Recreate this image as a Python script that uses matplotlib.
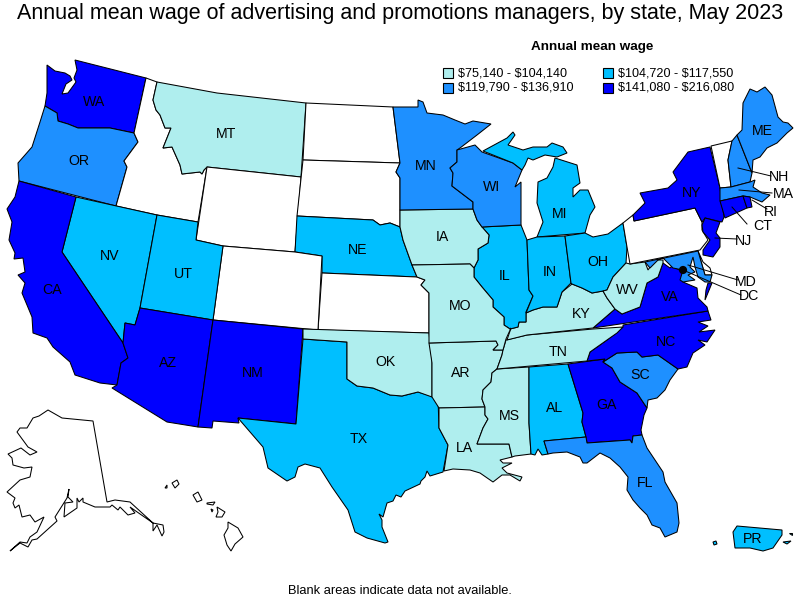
import matplotlib
matplotlib.use("Agg")
import matplotlib.pyplot as plt
import matplotlib.patches as patches

plt.rcParams['font.family'] = ['Liberation Sans', 'DejaVu Sans']
plt.rcParams['text.parse_math'] = False

title = "Annual mean wage of advertising and promotions managers, by state, May 2023"
legend_title = "Annual mean wage"
footer = "Blank areas indicate data not available."

# wage classes
class_labels = ["$75,140 - $104,140", "$104,720 - $117,550", "$119,790 - $136,910", "$141,080 - $216,080"]
class_colors = ["#AFEEEE", "#00BFFF", "#1E90FF", "#0000FF"]

class_0_states = ["MT", "IA", "MO", "AR", "OK", "LA", "MS", "TN", "KY", "WV"]
class_1_states = ["NV", "UT", "NE", "TX", "IL", "IN", "MI", "OH", "AL", "PR"]
class_2_states = ["OR", "MN", "WI", "ME", "NH", "MA", "MD", "SC", "FL"]
class_3_states = ["WA", "CA", "AZ", "NM", "NY", "CT", "RI", "NJ", "VA", "NC", "GA", "DC"]
blank_states = ["ID", "WY", "ND", "SD", "CO", "KS", "PA", "VT", "DE", "AK", "HI"]

state_class = {}
for i, group in enumerate([class_0_states, class_1_states, class_2_states, class_3_states]):
    for s in group:
        state_class[s] = i

# base map outlines, in image pixels
outlines = {
    "WA": [[(47,65),(55,71),(65,73),(70,76),(72,80),(66,84),(62,94),(68,93),(76,82),(74,78),(77,70),(75,60),(146,78),(134,133),(110,128),(93,128),(78,128),(68,124),(58,121),(57,113),(45,106),(47,93)]],
    "OR": [[(45,106),(57,113),(58,121),(68,124),(78,128),(93,128),(110,128),(134,133),(138,142),(124,161),(127,167),(116,206),(19,181),(18,163),(32,147),(40,122)]],
    "ID": [[(146,78),(157,82),(153,100),(156,110),(160,115),(165,128),(171,128),(163,148),(172,147),(180,165),(182,174),(200,172),(202,174),(204,170),(207,167),(198,222),(157,215),(116,206),(127,167),(124,161),(138,142),(134,133)]],
    "MT": [[(157,82),(217,93),(306,103),(301,177),(207,167),(204,170),(202,174),(200,172),(182,174),(180,165),(172,147),(163,148),(171,128),(165,128),(160,115),(156,110),(153,100)]],
    "WY": [[(207,167),(301,177),(295,252),(223,246),(196,240)]],
    "ND": [[(306,103),(393,107),(400,163),(303,160)]],
    "SD": [[(303,160),(400,163),(396,172),(400,178),(400,227),(390,223),(380,225),(373,220),(297,216)]],
    "NE": [[(297,216),(373,220),(380,225),(390,223),(400,227),(403,240),(412,265),(417,277),(322,273),(322,256),(295,252)]],
    "KS": [[(322,273),(417,277),(425,280),(421,285),(429,293),(429,333),(318,330)]],
    "CO": [[(223,246),(295,252),(322,256),(318,330),(213,320)]],
    "NV": [[(76,197),(157,215),(140,308),(135,325),(125,323),(123,343),(62,252)]],
    "UT": [[(157,215),(198,222),(196,240),(223,246),(213,320),(140,308)]],
    "CA": [[(19,181),(76,197),(62,252),(123,343),(128,358),(121,363),(117,385),(100,383),(75,375),(70,362),(53,347),(47,338),(33,333),(32,317),(22,293),(25,283),(18,275),(25,272),(23,258),(14,259),(15,253),(9,240),(12,222),(7,209),(15,197)]],
    "AZ": [[(140,308),(213,320),(198,427),(167,422),(112,388),(117,385),(121,363),(128,358),(123,343),(125,323),(135,325)]],
    "NM": [[(213,320),(303,329),(296,424),(238,418),(239,423),(213,421),(212,428),(198,427)]],
    "TX": [[(303,339),(347,342),(347,379),(357,386),(373,388),(390,395),(402,396),(418,392),(438,398),(439,428),(448,445),(443,472),(430,476),(427,471),(425,477),(421,481),(420,484),(405,491),(401,497),(396,495),(393,501),(387,503),(383,517),(379,514),(382,520),(382,527),(388,542),(385,543),(367,538),(355,532),(348,510),(332,487),(320,468),(305,464),(298,467),(295,477),(287,481),(268,468),(263,447),(238,418),(296,424)]],
    "OK": [[(303,329),(429,333),(432,360),(432,397),(418,392),(402,396),(390,395),(373,388),(357,386),(347,379),(347,342),(303,339)]],
    "AR": [[(429,343),(496,341),(498,345),(493,350),(503,350),(502,355),(497,369),(492,373),(491,382),(483,390),(482,399),(485,407),(439,408),(432,397),(432,363)]],
    "LA": [[(439,408),(485,407),(485,415),(488,419),(483,428),(477,444),(509,444),(512,457),(500,460),(503,463),(512,463),(502,468),(507,473),(522,477),(520,481),(510,475),(502,475),(493,482),(480,473),(470,470),(453,469),(444,471),(448,445),(439,428)]],
    "MS": [[(497,369),(529,367),(529,423),(531,454),(515,456),(512,457),(509,444),(477,444),(483,428),(488,419),(485,415),(485,407),(482,399),(483,390),(491,382),(492,373)]],
    "AL": [[(529,367),(568,364),(583,413),(582,422),(586,437),(544,441),(548,454),(542,455),(538,449),(535,455),(531,454),(529,423)]],
    "GA": [[(568,364),(605,359),(603,362),(612,368),(620,382),(637,393),(647,408),(644,415),(641,430),(642,435),(633,436),(632,443),(630,440),(587,443),(586,437),(582,422),(583,413)]],
    "FL": [[(544,441),(586,437),(587,443),(630,440),(632,443),(633,436),(642,435),(647,448),(663,472),(665,482),(677,503),(679,523),(677,532),(665,537),(660,528),(652,525),(647,515),(640,508),(633,500),(627,490),(628,477),(620,467),(610,458),(600,453),(587,463),(583,463),(580,457),(567,452),(553,453),(548,454)]],
    "SC": [[(603,362),(617,353),(637,352),(642,357),(658,355),(678,369),(670,380),(665,390),(657,398),(648,400),(647,408),(637,393),(620,382),(612,368)]],
    "NC": [[(623,325),(708,311),(711,320),(698,322),(708,326),(699,332),(715,330),(707,342),(698,340),(705,345),(693,353),(687,367),(678,369),(658,355),(642,357),(637,352),(617,353),(603,362),(605,359),(587,361),(590,352),(607,340),(623,327)]],
    "TN": [[(506,340),(527,335),(593,329),(623,327),(617,333),(607,340),(590,352),(587,361),(497,369),(502,355),(503,350)]],
    "VA": [[(593,328),(615,309),(622,314),(640,307),(647,283),(658,277),(663,263),(670,268),(672,266),(683,272),(683,282),(697,288),(698,298),(707,307),(708,311)],
           [(712,283),(705,300),(706,290),(708,283)]],
    "KY": [[(510,329),(518,327),(519,322),(526,322),(526,313),(533,310),(543,307),(557,307),(562,292),(572,284),(582,288),(592,293),(603,291),(607,298),(615,309),(593,328),(527,335),(507,340),(511,328)]],
    "IL": [[(482,227),(521,225),(527,240),(529,290),(533,296),(526,312),(526,322),(519,322),(518,327),(510,329),(504,325),(504,317),(493,307),(493,300),(482,287),(474,277),(474,268),(478,260),(478,249),(488,243),(489,235)]],
    "IA": [[(400,210),(473,209),(477,220),(482,227),(489,235),(488,243),(478,249),(478,260),(474,268),(470,264),(412,265),(403,240),(400,227)]],
    "MO": [[(412,265),(470,264),(474,268),(474,277),(482,287),(493,300),(493,307),(504,317),(504,325),(510,329),(511,328),(506,339),(503,350),(493,350),(498,345),(496,341),(429,343),(429,293),(421,285),(425,280),(417,277)]],
    "MN": [[(393,107),(418,107),(418,100),(423,102),(427,113),(443,115),(455,120),(465,124),(473,121),(491,124),(477,135),(460,148),(457,150),(457,162),(450,168),(453,173),(452,186),(473,202),(473,209),(400,210),(400,178),(396,172),(400,163)]],
    "WI": [[(457,150),(475,145),(482,152),(513,163),(522,170),(515,187),(521,182),(521,225),(482,227),(477,220),(473,209),(473,202),(452,186),(453,173),(450,168),(457,162)]],
    "MI": [[(483,151),(507,138),(513,132),(515,135),(508,145),(523,150),(533,147),(547,147),(552,143),(563,147),(567,153),(557,157),(545,155),(533,160),(528,158),(525,165),(522,170),(513,163)],
           [(555,158),(577,165),(580,183),(573,188),(573,197),(580,190),(588,190),(595,207),(590,215),(585,233),(537,237),(543,222),(537,203),(538,182),(547,178),(553,167)]],
    "IN": [[(527,240),(537,237),(565,236),(571,283),(562,292),(557,307),(543,307),(533,310),(526,313),(533,296),(529,290)]],
    "OH": [[(565,236),(585,233),(593,237),(608,234),(623,223),(627,247),(626,263),(613,277),(607,290),(603,291),(592,293),(582,288),(572,284),(571,283)]],
    "WV": [[(630,264),(645,262),(648,270),(655,260),(663,260),(663,263),(658,277),(647,283),(640,307),(622,314),(615,309),(607,298),(603,291),(607,290),(613,277),(626,263)]],
    "PA": [[(623,223),(633,215),(634,221),(695,208),(702,222),(702,230),(708,240),(700,250),(630,264),(627,247)]],
    "NY": [[(710,147),(720,188),(724,217),(722,222),(705,218),(702,222),(695,208),(634,221),(633,215),(645,203),(640,193),(668,188),(677,180),(673,172),(688,152)]],
    "NJ": [[(705,218),(720,222),(716,233),(720,238),(720,247),(713,257),(703,255),(703,250),(710,240),(703,232),(702,225)]],
    "VT": [[(711,146),(732,141),(728,160),(731,187),(720,188)]],
    "NH": [[(732,141),(737,135),(752,173),(750,182),(731,187),(728,160)]],
    "ME": [[(737,135),(742,130),(743,103),(750,89),(757,92),(765,87),(772,95),(778,117),(783,122),(788,123),(793,128),(787,133),(777,143),(767,148),(760,157),(753,160),(752,173)]],
    "MA": [[(720,188),(731,187),(750,182),(755,180),(753,187),(762,193),(770,195),(762,202),(750,197),(743,196),(720,201)]],
    "CT": [[(720,201),(743,196),(747,208),(725,218)]],
    "RI": [[(743,196),(750,197),(752,207),(747,208)]],
    "DE": [[(698,251),(703,262),(710,268),(712,275),(705,275)]],
    "MD": [[(645,262),(698,251),(705,275),(712,275),(710,282),(705,282),(698,277),(695,267),(693,257),(690,267),(695,272),(688,275),(695,280),(683,282),(680,280),(683,270),(673,268),(663,258),(658,260),(650,268)]],
    "AK": [[(48,410),(62,418),(93,421),(107,502),(115,500),(130,502),(153,523),(163,525),(164,532),(162,536),(157,525),(153,531),(153,523),(130,507),(135,513),(128,515),(120,507),(118,510),(112,505),(110,507),(95,507),(83,502),(83,498),(79,502),(77,498),(77,508),(64,517),(65,503),(73,502),(68,497),(69,489),(67,498),(55,517),(57,521),(37,539),(32,540),(28,547),(20,543),(10,551),(20,542),(27,543),(30,537),(37,532),(44,517),(35,522),(30,515),(22,517),(19,505),(15,508),(13,503),(15,498),(7,492),(20,480),(30,477),(32,467),(24,468),(13,465),(12,458),(8,454),(21,448),(30,455),(37,452),(28,447),(17,432),(20,428),(27,428),(33,418),(39,416)]],
    "HI": [[(228,522),(238,528),(243,537),(235,544),(231,551),(227,545),(224,535),(228,528)],
           [(217,507),(225,512),(222,517),(216,517),(218,512)],
           [(207,503),(215,502),(213,505),(207,504)],
           [(211,509),(213,510),(212,512)],
           [(193,495),(198,492),(202,500),(197,502)],
           [(172,483),(177,480),(179,484),(175,488)],
           [(165,488),(167,485),(167,488)]],
    "PR": [[(737,526),(782,530),(782,535),(773,548),(763,551),(750,548),(735,548),(733,532)],
           [(783,542),(791,541),(787,544)],
           [(789,533),(792,533),(792,535)],
           [(713,542),(716,541),(717,544),(714,545)]],
}

# labels sitting on the states
label_pos = {
    "WA": (94,102), "OR": (79,161), "CA": (52,290), "NV": (110,256), "MT": (226,134),
    "UT": (183,274), "AZ": (168,363), "NM": (253,373), "TX": (359,439), "OK": (386,362),
    "NE": (358,250), "IA": (442,237), "MO": (460,306), "AR": (461,373), "LA": (464,448),
    "MN": (426,166), "WI": (492,187), "IL": (505,276), "IN": (550,272), "MI": (560,214),
    "OH": (598,262), "KY": (581,314), "TN": (558,352), "MS": (509,416), "AL": (555,408),
    "GA": (606,405), "FL": (645,483), "SC": (640,375), "NC": (666,342), "VA": (670,297),
    "WV": (627,290), "NY": (692,193), "ME": (762,131), "PR": (753,539),
}

# small states get a leader line: start, end, label
leaders = {
    "NH": ((738,168), (771,176), (779,177)),
    "MA": ((739,190), (772,193), (783,194)),
    "RI": ((752,200), (767,209), (771,212)),
    "CT": ((732,207), (747,224), (763,226)),
    "NJ": ((715,238), (737,239), (744,241)),
    "MD": ((688,265), (738,280), (746,282)),
    "DC": ((683,270), (741,295), (749,296)),
}

fig = plt.figure(figsize=(8, 6), dpi=100)
ax = fig.add_axes([0, 0, 1, 1])
ax.set_xlim(0, 800)
ax.set_ylim(600, 0)
ax.axis('off')

for state, parts in outlines.items():
    color = class_colors[state_class[state]] if state in state_class else "white"
    for part in parts:
        ax.add_patch(patches.Polygon(part, closed=True, facecolor=color, edgecolor="black", linewidth=0.75, joinstyle='miter'))

# DC is only a dot
ax.add_patch(patches.Circle((683, 270), 3.4, facecolor="black", edgecolor="black", zorder=3))

for state, (x, y) in label_pos.items():
    ax.text(x, y, state, ha='center', va='center', fontsize=10.2, color="black", zorder=4)

for state, (start, end, pos) in leaders.items():
    ax.plot([start[0], end[0]], [start[1], end[1]], color="black", linewidth=0.7, zorder=4)
    ax.text(pos[0], pos[1], state, ha='center', va='center', fontsize=10.2, color="black", zorder=4)

ax.text(400, 13, title, ha='center', va='center', fontsize=15.5)
ax.text(592, 47, legend_title, ha='center', va='center', fontsize=9.7, fontweight='bold')
ax.text(400, 591, footer, ha='center', va='center', fontsize=9.25)

# legend, two columns
legend_x = [443, 603, 443, 603]
legend_y = [68, 68, 83, 83]
for i, label in enumerate(class_labels):
    ax.add_patch(patches.Rectangle((legend_x[i], legend_y[i]), 10, 10, facecolor=class_colors[i], edgecolor="black", linewidth=0.8))
    ax.text(legend_x[i] + 15, legend_y[i] + 5, label, ha='left', va='center', fontsize=9.1)

fig.savefig("out.png", dpi=100, facecolor="white")
